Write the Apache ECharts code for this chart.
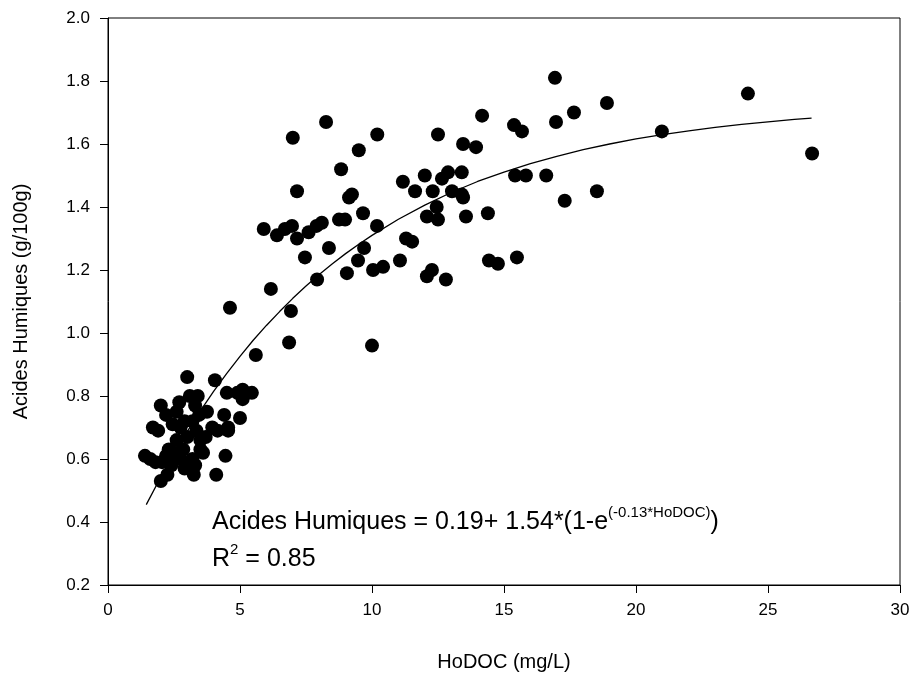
<!DOCTYPE html>
<html>
<head>
<meta charset="utf-8">
<script src="https://cdn.jsdelivr.net/npm/echarts@6/dist/echarts.min.js"></script>
<style>
  html, body { margin: 0; padding: 0; background: #fff; }
  #chart { width: 914px; height: 677px; }
</style>
</head>
<body>
<div id="chart"></div>
<script>
// HoDOC (mg/L) et acides humiques (g/100g)
var hodoc = [
  // amas des faibles valeurs
  1.4, 1.6, 1.7, 1.8, 1.9, 2.0, 2.0, 2.05, 2.2, 2.2, 2.25, 2.3, 2.4, 2.45, 2.5, 2.6, 2.6, 2.7, 2.75, 2.75,
  2.85, 2.9, 2.9, 3.0, 3.0, 3.0, 3.1, 3.2, 3.2, 3.25, 3.3, 3.3, 3.35, 3.4, 3.45, 3.5, 3.5, 3.6, 3.7, 3.75,
  3.95, 4.05, 4.1, 4.15, 4.4, 4.45, 4.5, 4.55, 4.9, 5.0, 5.1, 5.1, 5.45, 4.55, 5.2,
  // zone intermédiaire
  8.26, 7.0, 10.2, 9.5, 12.5, 13.45, 8.83, 7.16, 9.13, 9.24, 11.17, 12.0, 12.65, 12.88, 13.4, 11.63, 12.3,
  13.03, 13.4, 13.45, 12.45, 12.08, 12.5, 13.56, 9.66, 8.98, 8.75, 8.1, 7.9, 7.6, 6.97, 6.7, 6.4, 5.9, 7.16,
  10.19, 9.7, 9.47, 8.37, 7.46, 9.05, 10.04, 10.42, 11.06, 11.29, 11.52, 12.08, 12.27, 12.8, 7.92, 6.17,
  4.62, 6.93, 6.86, 10.0, 5.6,
  // valeurs élevées
  16.93, 18.9, 17.65, 16.97, 14.17, 15.38, 15.68, 13.94, 14.39, 15.42, 15.83, 16.6, 17.3, 18.52, 14.43,
  14.77, 15.49, 24.24, 20.98, 26.67
];
var acides = [
  0.61, 0.60, 0.70, 0.59, 0.69, 0.53, 0.77, 0.59, 0.74, 0.61, 0.55, 0.63, 0.58, 0.71, 0.62, 0.66, 0.75, 0.78, 0.70, 0.60,
  0.63, 0.57, 0.72, 0.86, 0.67, 0.58, 0.80, 0.72, 0.60, 0.55, 0.58, 0.77, 0.69, 0.80, 0.74, 0.66, 0.63, 0.62, 0.67, 0.75,
  0.70, 0.85, 0.55, 0.69, 0.74, 0.61, 0.81, 0.70, 0.81, 0.73, 0.82, 0.79, 0.81, 0.69, 0.81,
  1.67, 1.62, 1.63, 1.58, 1.63, 1.60, 1.52, 1.45, 1.43, 1.44, 1.48, 1.50, 1.49, 1.51, 1.51, 1.45, 1.45,
  1.45, 1.44, 1.43, 1.40, 1.37, 1.36, 1.37, 1.38, 1.36, 1.36, 1.35, 1.34, 1.32, 1.34, 1.33, 1.31, 1.33, 1.30,
  1.34, 1.27, 1.23, 1.27, 1.24, 1.19, 1.20, 1.21, 1.23, 1.30, 1.29, 1.18, 1.20, 1.17, 1.17, 1.14,
  1.08, 1.07, 0.97, 0.96, 0.93,
  1.81, 1.73, 1.70, 1.67, 1.69, 1.66, 1.64, 1.59, 1.38, 1.50, 1.50, 1.50, 1.42, 1.45, 1.23,
  1.22, 1.24, 1.76, 1.64, 1.57
];

// courbe d'ajustement, points relevés le long du tracé
var curveX = [1.45, 2, 2.5, 3, 3.5, 4, 4.5, 5, 5.5, 6, 6.5, 7, 7.5, 8, 8.5, 9, 9.5, 10,
  11, 12, 13, 14, 15, 16, 17, 18, 19, 20, 21, 22, 23, 24, 25, 26, 26.65];
var curveY = [0.455, 0.543, 0.617, 0.687, 0.753, 0.815, 0.872, 0.926, 0.977, 1.024, 1.068, 1.110, 1.149, 1.186, 1.220, 1.252, 1.282, 1.310,
  1.361, 1.406, 1.446, 1.481, 1.511, 1.538, 1.561, 1.582, 1.600, 1.616, 1.630, 1.642, 1.653, 1.662, 1.670, 1.678, 1.682];

var xTicks = [0, 5, 10, 15, 20, 25, 30];
var yTicks = [0.2, 0.4, 0.6, 0.8, 1.0, 1.2, 1.4, 1.6, 1.8, 2.0];

var FONT = 'Liberation Sans, Arial, sans-serif';

var points = hodoc.map(function (x, i) { return [x, acides[i]]; });
var fit = curveX.map(function (x, i) { return [x, curveY[i]]; });

// largeur des textes pour placer les exposants
var ctx = document.createElement('canvas').getContext('2d');
function textW(s, size) {
  ctx.font = size + 'px ' + FONT;
  return ctx.measureText(s).width;
}

var eqX = 212, eqY = 510, r2Y = 547;
var eq1 = 'Acides Humiques = 0.19+ 1.54*(1-e';
var eqSup = '(-0.13*HoDOC)';
var w1 = textW(eq1, 25);
var wSup = textW(eqSup, 15);
var wR = textW('R', 25);
var wTwo = textW('2', 15);

var option = {
  animation: false,
  backgroundColor: '#fff',
  grid: {
    left: 108, right: 14, top: 18, bottom: 90,
    show: true, borderColor: '#000', borderWidth: 1
  },
  xAxis: {
    type: 'value',
    min: xTicks[0], max: xTicks[xTicks.length - 1], interval: 5,
    name: 'HoDOC (mg/L)',
    nameLocation: 'middle',
    nameGap: 67,
    nameTextStyle: { fontSize: 20, color: '#000', fontFamily: FONT },
    axisLine: { lineStyle: { color: '#000', width: 1 } },
    axisTick: { inside: false, length: 8, lineStyle: { color: '#000' } },
    axisLabel: { margin: 17, fontSize: 17, color: '#000', fontFamily: FONT },
    splitLine: { show: false }
  },
  yAxis: {
    type: 'value',
    min: yTicks[0], max: yTicks[yTicks.length - 1], interval: 0.2,
    name: 'Acides Humiques (g/100g)',
    nameLocation: 'middle',
    nameGap: 77,
    nameRotate: 90,
    nameTextStyle: { fontSize: 20, color: '#000', fontFamily: FONT },
    axisLine: { lineStyle: { color: '#000', width: 1 } },
    axisTick: { inside: false, length: 8, lineStyle: { color: '#000' } },
    axisLabel: {
      margin: 18, fontSize: 17, color: '#000', fontFamily: FONT,
      formatter: function (v) { return v.toFixed(1); }
    },
    splitLine: { show: false }
  },
  series: [
    {
      type: 'line',
      data: fit,
      smooth: false,
      showSymbol: false,
      lineStyle: { color: '#000', width: 1.3 },
      z: 3
    },
    {
      type: 'scatter',
      data: points,
      symbol: 'circle',
      symbolSize: 14,
      itemStyle: { color: '#000', opacity: 1 },
      z: 4
    }
  ],
  graphic: [
    { type: 'text', left: eqX, top: eqY, style: { text: eq1, font: '25px ' + FONT, fill: '#000' } },
    { type: 'text', left: eqX + w1, top: eqY - 5, style: { text: eqSup, font: '15px ' + FONT, fill: '#000' } },
    { type: 'text', left: eqX + w1 + wSup, top: eqY, style: { text: ')', font: '25px ' + FONT, fill: '#000' } },
    { type: 'text', left: eqX, top: r2Y, style: { text: 'R', font: '25px ' + FONT, fill: '#000' } },
    { type: 'text', left: eqX + wR, top: r2Y - 5, style: { text: '2', font: '15px ' + FONT, fill: '#000' } },
    { type: 'text', left: eqX + wR + wTwo, top: r2Y, style: { text: ' = 0.85', font: '25px ' + FONT, fill: '#000' } }
  ]
};

var chart = echarts.init(document.getElementById('chart'));
chart.setOption(option);
</script>
</body>
</html>
